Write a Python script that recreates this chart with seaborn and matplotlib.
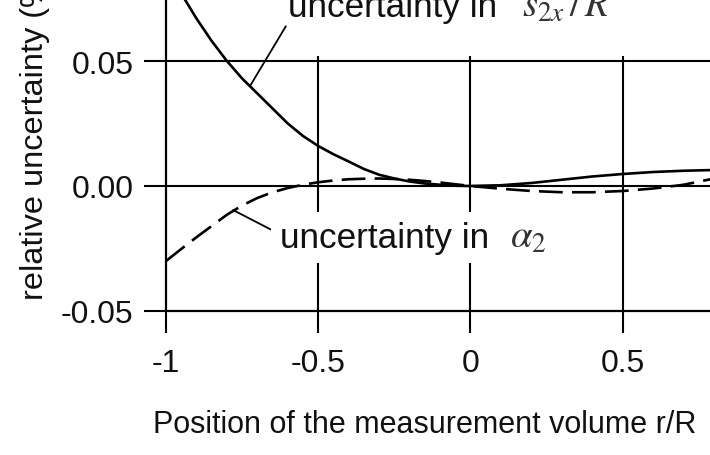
import numpy as np
import pandas as pd
import matplotlib
matplotlib.use("Agg")
import matplotlib.pyplot as plt
import seaborn as sns

# ---- data ----
position = [-1.0, -0.95, -0.9, -0.85, -0.8, -0.75, -0.7, -0.65, -0.6, -0.55, -0.5,
            -0.45, -0.4, -0.35, -0.3, -0.25, -0.2, -0.15, -0.1, -0.05, 0.0,
            0.1, 0.2, 0.3, 0.4, 0.5, 0.6, 0.7, 0.8, 0.9, 1.0]
unc_s2x_R = [0.089, 0.077, 0.067, 0.058, 0.050, 0.043, 0.037, 0.031, 0.025, 0.020, 0.016,
             0.0127, 0.0098, 0.0068, 0.0045, 0.0030, 0.0018, 0.0010, 0.0005, 0.0001, 0.0,
             0.0003, 0.0012, 0.0025, 0.0038, 0.0048, 0.0056, 0.0061, 0.0064, 0.0062, 0.0055]
unc_alpha2 = [-0.030, -0.0252, -0.0205, -0.016, -0.0115, -0.0078, -0.0048, -0.0025, -0.0008, 0.0005, 0.0015,
              0.0022, 0.0027, 0.0029, 0.0030, 0.0028, 0.0025, 0.0020, 0.0014, 0.0007, 0.0,
              -0.0011, -0.0020, -0.0025, -0.0025, -0.0020, -0.0010, 0.0005, 0.0030, 0.0070, 0.0120]
x_ticks = [-1, -0.5, 0, 0.5, 1]
x_tick_labels = ["-1", "-0.5", "0", "0.5", "1"]
y_ticks = [-0.05, 0.0, 0.05, 0.10]
y_tick_labels = ["-0.05", "0.00", "0.05", "0.10"]

df = pd.DataFrame({"pos": position, "s2x": unc_s2x_R, "alpha": unc_alpha2})

sns.set_style("ticks")
plt.rcParams["font.family"] = ["Liberation Sans", "DejaVu Sans"]
plt.rcParams["mathtext.fontset"] = "stix"
plt.rcParams["axes.unicode_minus"] = False

fig = plt.figure(figsize=(7.1, 4.56), dpi=100)
ax = fig.add_axes([166 / 710, (456 - 312) / 456, 609 / 710, 375 / 456])

lw = 1.9
sns.lineplot(data=df, x="pos", y="s2x", ax=ax, color="black", lw=lw, zorder=3)
sns.lineplot(data=df, x="pos", y="alpha", ax=ax, color="black", lw=lw, zorder=3)
ax.lines[-1].set_dashes((9, 3.5))

ax.set_xlim(-1, 1)
ax.set_ylim(-0.05, 0.10)
ax.set_xticks(x_ticks)
ax.set_xticklabels(x_tick_labels)
ax.set_yticks(y_ticks)
ax.set_yticklabels(y_tick_labels)

# grid lines
ax.hlines([0.0, 0.05, 0.10], -1, 1, color="black", lw=1.5, zorder=1)
ax.vlines([-0.5, 0.0, 0.5, 1.0], -0.05, 0.052, color="black", lw=1.5, zorder=1)

for s in ["top", "right"]:
    ax.spines[s].set_visible(False)
for s in ["left", "bottom"]:
    ax.spines[s].set_linewidth(1.6)
    ax.spines[s].set_color("black")

ax.tick_params(axis="both", direction="out", length=15.5, width=1.5, color="black",
               labelsize=23, labelcolor="#111111")
ax.tick_params(axis="y", pad=8)
ax.tick_params(axis="x", pad=11)

ax.set_ylabel("relative uncertainty (%)", fontsize=23.4, color="#111111")
ax.yaxis.set_label_coords(-0.19, (312 - 134) / 375)
ax.set_xlabel("Position of the measurement volume r/R", fontsize=22, color="#111111",
              ha="left")
ax.xaxis.set_label_coords((153 - 166) / 609, (312 - 433) / 375)
ax.xaxis.label.set_va("baseline")

# annotations
ax.annotate("uncertainty in", xy=(-0.724, 0.040), xytext=(-0.60, 0.068),
            fontsize=25.3, va="baseline", ha="left", color="#111111",
            arrowprops=dict(arrowstyle="-", color="black", lw=1.3, shrinkA=0, shrinkB=0,
                            relpos=(0.0, 0.0)))
ax.text(0.169, 0.068, "$s_{2x}\\,/\\,R$", fontsize=28, va="baseline", ha="left",
        color="#333333")
ax.annotate("uncertainty in", xy=(-0.78, -0.0096), xytext=(-0.626, -0.0244),
            fontsize=25.3, va="baseline", ha="left", color="#111111", zorder=5,
            bbox=dict(boxstyle="square,pad=0.25", fc="white", ec="none"),
            arrowprops=dict(arrowstyle="-", color="black", lw=1.3, shrinkA=0, shrinkB=0,
                            relpos=(0.0, 0.6)))
ax.text(0.129, -0.0244, "$\\alpha_2$", fontsize=28, va="baseline", ha="left",
        color="#333333", zorder=5)

fig.savefig("out.png", dpi=100)
